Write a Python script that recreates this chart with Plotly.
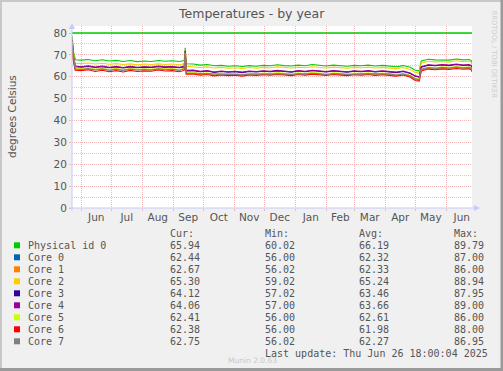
import plotly.graph_objects as go

# ---------------- data ----------------
dates = [
    "2024-05-23", "2024-05-24", "2024-05-26", "2024-06-01", "2024-06-08", "2024-06-15",
    "2024-06-22", "2024-06-29", "2024-07-06", "2024-07-13", "2024-07-20", "2024-07-27",
    "2024-08-03", "2024-08-10", "2024-08-17", "2024-08-24", "2024-08-31", "2024-09-07",
    "2024-09-12", "2024-09-13", "2024-09-14", "2024-09-21", "2024-09-28", "2024-10-05",
    "2024-10-12", "2024-10-19", "2024-10-26", "2024-11-02", "2024-11-09", "2024-11-16",
    "2024-11-23", "2024-11-30", "2024-12-07", "2024-12-14", "2024-12-21", "2024-12-28",
    "2025-01-04", "2025-01-11", "2025-01-18", "2025-01-25", "2025-02-01", "2025-02-08",
    "2025-02-15", "2025-02-22", "2025-03-01", "2025-03-08", "2025-03-15", "2025-03-22",
    "2025-03-29", "2025-04-05", "2025-04-12", "2025-04-19", "2025-04-26", "2025-05-01",
    "2025-05-05", "2025-05-07", "2025-05-14", "2025-05-21", "2025-05-28", "2025-06-04",
    "2025-06-11", "2025-06-18", "2025-06-24", "2025-06-26 00:00", "2025-06-26 18:00",
]

physical_id_0 = [
    78.5, 72.0, 67.8, 67.6, 67.9, 67.3, 67.8, 67.2, 67.5, 67.0, 67.4, 66.9, 67.2, 67.0, 67.4,
    67.1, 67.3, 67.0, 67.4, 73.2, 65.9, 65.8, 65.3, 65.6, 65.0, 65.2, 64.8, 65.0, 64.7, 65.1,
    64.8, 65.2, 65.0, 65.5, 65.1, 64.9, 65.3, 65.0, 65.6, 65.1, 64.9, 65.3, 65.1, 64.8, 65.2,
    65.0, 65.3, 64.9, 65.2, 65.0, 64.6, 65.1, 64.3, 63.0, 62.7, 67.2, 68.0, 67.7, 67.8, 67.6,
    68.1, 67.7, 67.9, 67.4, 65.94,
]
core_0 = [
    75.5, 68.5, 63.7, 63.4, 63.8, 63.2, 63.7, 63.1, 63.5, 63.0, 63.6, 63.2, 63.4, 63.2, 63.7,
    63.3, 63.5, 63.1, 63.6, 70.5, 61.6, 61.7, 61.2, 61.5, 60.9, 61.3, 61.0, 61.2, 60.8, 61.3,
    61.1, 61.4, 61.2, 61.6, 61.3, 61.0, 61.5, 61.2, 61.7, 61.3, 61.1, 61.5, 61.3, 61.0, 61.4,
    61.2, 61.5, 61.1, 61.4, 61.2, 60.8, 61.3, 60.4, 59.0, 58.6, 63.2, 64.1, 63.8, 64.2, 63.9,
    64.4, 64.0, 64.2, 63.7, 62.44,
]
core_1 = [
    75.0, 68.0, 63.6, 63.5, 63.6, 63.3, 63.5, 63.2, 63.6, 63.1, 63.4, 63.3, 63.5, 63.1, 63.6,
    63.4, 63.3, 63.2, 63.5, 70.2, 61.5, 61.8, 61.1, 61.4, 61.0, 61.2, 61.1, 61.3, 60.9, 61.2,
    61.2, 61.3, 61.3, 61.5, 61.2, 61.1, 61.4, 61.3, 61.6, 61.2, 61.2, 61.4, 61.2, 61.1, 61.3,
    61.3, 61.4, 61.2, 61.3, 61.1, 60.9, 61.2, 60.3, 58.9, 58.5, 63.3, 64.0, 63.9, 64.1, 63.8,
    64.3, 64.1, 64.1, 63.8, 62.67,
]
core_2 = [
    77.5, 71.0, 66.2, 66.0, 66.3, 65.8, 66.2, 65.7, 66.0, 65.6, 65.9, 65.5, 65.8, 65.6, 65.9,
    65.6, 65.8, 65.5, 65.9, 72.5, 64.8, 64.6, 64.2, 64.5, 64.0, 64.3, 63.9, 64.1, 63.8, 64.2,
    63.9, 64.3, 64.1, 64.5, 64.2, 64.0, 64.4, 64.1, 64.6, 64.2, 64.0, 64.4, 64.2, 63.9, 64.3,
    64.1, 64.4, 64.0, 64.3, 64.1, 63.7, 64.2, 63.3, 62.0, 61.6, 66.2, 67.1, 66.8, 67.0, 66.7,
    67.3, 66.9, 67.1, 66.6, 65.30,
]
core_3 = [
    76.5, 69.5, 64.6, 64.4, 64.7, 64.2, 64.6, 64.1, 64.5, 64.0, 64.5, 64.1, 64.4, 64.2, 64.6,
    64.3, 64.5, 64.1, 64.5, 71.5, 62.7, 62.8, 62.3, 62.6, 62.0, 62.4, 62.1, 62.3, 61.9, 62.4,
    62.2, 62.5, 62.3, 62.7, 62.4, 62.1, 62.6, 62.3, 62.8, 62.4, 62.2, 62.6, 62.4, 62.1, 62.5,
    62.3, 62.6, 62.2, 62.5, 62.3, 61.9, 62.4, 61.5, 60.2, 59.8, 64.4, 65.3, 65.0, 65.4, 65.1,
    65.6, 65.2, 65.4, 64.9, 64.12,
]
core_4 = [
    77.0, 70.0, 64.9, 64.6, 65.0, 64.4, 64.9, 64.3, 64.7, 64.2, 64.8, 64.3, 64.6, 64.4, 64.9,
    64.5, 64.7, 64.3, 64.8, 72.0, 62.9, 63.1, 62.5, 62.8, 62.2, 62.6, 62.3, 62.5, 62.1, 62.6,
    62.4, 62.7, 62.5, 62.9, 62.6, 62.3, 62.8, 62.5, 63.0, 62.6, 62.4, 62.8, 62.6, 62.3, 62.7,
    62.5, 62.8, 62.4, 62.7, 62.5, 62.1, 62.6, 61.7, 60.4, 60.0, 64.6, 65.5, 65.2, 65.6, 65.3,
    65.8, 65.4, 65.6, 65.1, 64.06,
]
core_5 = [
    76.0, 69.0, 63.9, 63.6, 64.0, 63.4, 63.9, 63.3, 63.7, 63.3, 63.8, 63.4, 63.6, 63.5, 63.9,
    63.5, 63.7, 63.3, 63.8, 71.0, 61.9, 62.0, 61.5, 61.8, 61.2, 61.6, 61.3, 61.5, 61.1, 61.6,
    61.4, 61.7, 61.5, 61.9, 61.6, 61.3, 61.8, 61.5, 62.0, 61.6, 61.4, 61.8, 61.6, 61.3, 61.7,
    61.5, 61.8, 61.4, 61.7, 61.5, 61.1, 61.6, 60.7, 59.4, 59.0, 63.5, 64.4, 64.1, 64.5, 64.2,
    64.7, 64.3, 64.5, 64.0, 62.41,
]
core_6 = [
    75.0, 67.5, 63.0, 62.8, 63.2, 62.4, 63.0, 62.3, 62.8, 62.2, 62.9, 62.4, 62.7, 62.5, 63.1,
    62.6, 62.8, 62.3, 62.9, 70.0, 61.2, 61.3, 60.7, 61.0, 60.4, 60.8, 60.5, 60.7, 60.3, 60.8,
    60.6, 60.9, 60.7, 61.1, 60.8, 60.5, 61.0, 60.7, 61.2, 60.8, 60.6, 61.0, 60.8, 60.5, 60.9,
    60.7, 61.0, 60.6, 60.9, 60.7, 60.3, 60.8, 59.8, 58.3, 58.0, 62.6, 63.5, 63.2, 63.6, 63.3,
    63.8, 63.4, 63.6, 63.1, 62.38,
]
core_7 = [
    75.8, 68.8, 63.5, 63.3, 63.7, 63.1, 63.6, 63.0, 63.4, 63.0, 63.5, 63.1, 63.3, 63.1, 63.6,
    63.2, 63.4, 63.0, 63.5, 70.8, 61.7, 61.6, 61.3, 61.4, 61.0, 61.2, 61.1, 61.1, 60.9, 61.2,
    61.2, 61.3, 61.3, 61.5, 61.4, 61.0, 61.4, 61.3, 61.6, 61.4, 61.0, 61.4, 61.4, 61.0, 61.3,
    61.3, 61.4, 61.2, 61.3, 61.3, 60.8, 61.2, 60.5, 59.1, 58.7, 63.4, 64.2, 63.9, 64.3, 64.0,
    64.4, 64.1, 64.3, 63.8, 62.75,
]

series_names = ["Physical id 0", "Core 0", "Core 1", "Core 2", "Core 3",
                "Core 4", "Core 5", "Core 6", "Core 7"]
series_values = [physical_id_0, core_0, core_1, core_2, core_3, core_4, core_5, core_6, core_7]
series_colors = ["#00CC00", "#0066B3", "#FF8000", "#FFCC00", "#330099",
                 "#990099", "#CCFF00", "#FF0000", "#808080"]

cur_values = [65.94, 62.44, 62.67, 65.30, 64.12, 64.06, 62.41, 62.38, 62.75]
min_values = [60.02, 56.00, 56.02, 59.02, 57.02, 57.00, 56.00, 56.00, 56.02]
avg_values = [66.19, 62.32, 62.33, 65.24, 63.46, 63.66, 62.61, 61.98, 62.27]
max_values = [89.79, 87.00, 86.00, 88.94, 87.95, 89.00, 86.00, 88.00, 86.95]

limit_value = 80
x_start = "2024-05-22 18:00"
x_end = "2025-06-26 18:00"
y_max = 83.2
y_ticks = [0, 10, 20, 30, 40, 50, 60, 70, 80]

title_text = "Temperatures - by year"
y_title = "degrees Celsius"
last_update = "Last update: Thu Jun 26 18:00:04 2025"
munin_version = "Munin 2.0.63"
rrd_credit = "RRDTOOL / TOBI OETIKER"

# ---------------- layout geometry ----------------
W, H = 503, 371
L, R, T, B = 72, 31, 26, 163
PW = W - L - R
PH = H - T - B


def px(x):
    return (x - L) / PW


def py(y):
    return (H - B - y) / PH


TEXT = "#555555"
MONO = "DejaVu Sans Mono"
SANS = "DejaVu Sans"
MGRID = "#F2B4B4"
GRID = "#CFCFCF"
AXIS = "#C8C8FA"
DOT = "1px,1px"

fig = go.Figure()

fig.add_trace(go.Scatter(
    x=[x_start, x_end], y=[limit_value, limit_value], mode="lines",
    line=dict(color=series_colors[0], width=1.3), showlegend=False, hoverinfo="skip"))

for name, vals, col in zip(series_names, series_values, series_colors):
    fig.add_trace(go.Scatter(x=dates, y=vals, mode="lines", name=name,
                             line=dict(color=col, width=1.1), showlegend=False))

annotations = []
shapes = []

# title
annotations.append(dict(text=title_text, x=px(251), y=py(13), xref="paper", yref="paper",
                         xanchor="center", yanchor="middle", showarrow=False,
                         font=dict(family=SANS, size=12.5, color=TEXT)))
# y title
annotations.append(dict(text=y_title, x=px(12), y=py(117), xref="paper", yref="paper",
                        xanchor="center", yanchor="middle", showarrow=False, textangle=-90,
                        font=dict(family=SANS, size=10.5, color=TEXT)))
# rrdtool credit
annotations.append(dict(text=rrd_credit, x=px(493.5), y=py(54), xref="paper", yref="paper",
                        xanchor="center", yanchor="middle", showarrow=False, textangle=90,
                        font=dict(family=SANS, size=6.8, color="#CCCCCC")))

# legend header
col_x = [169, 264, 358, 453]
for cx, head in zip(col_x, ["Cur:", "Min:", "Avg:", "Max:"]):
    annotations.append(dict(text=head, x=px(cx), y=py(233), xref="paper", yref="paper",
                            xanchor="left", yanchor="middle", showarrow=False,
                            borderpad=0, font=dict(family=MONO, size=10, color=TEXT)))

for i, (name, col) in enumerate(zip(series_names, series_colors)):
    yy = 245.3 + 12 * i
    shapes.append(dict(type="rect", xref="paper", yref="paper",
                       x0=px(14), x1=px(20), y0=py(yy + 3), y1=py(yy - 3),
                       fillcolor=col, line=dict(width=0)))
    annotations.append(dict(text=name, x=px(26.5), y=py(yy), xref="paper", yref="paper",
                            xanchor="left", yanchor="middle", showarrow=False, borderpad=0,
                            font=dict(family=MONO, size=10, color=TEXT)))
    for cx, v in zip(col_x, [cur_values[i], min_values[i], avg_values[i], max_values[i]]):
        annotations.append(dict(text=f"{v:.2f}", x=px(cx), y=py(yy), xref="paper", yref="paper",
                                xanchor="left", yanchor="middle", showarrow=False, borderpad=0,
                                font=dict(family=MONO, size=10, color=TEXT)))

annotations.append(dict(text=munin_version, x=px(252), y=py(360.5), xref="paper", yref="paper",
                        xanchor="center", yanchor="middle", showarrow=False, borderpad=0,
                        font=dict(family=SANS, size=7.5, color="#C8C8C8")))
annotations.append(dict(text=last_update, x=px(488.5), y=py(353.3), xref="paper", yref="paper",
                        xanchor="right", yanchor="middle", showarrow=False, borderpad=0,
                        font=dict(family=MONO, size=10, color=TEXT)))

# axis lines + arrows
shapes.append(dict(type="line", xref="paper", yref="paper", x0=px(69), x1=px(477),
                   y0=py(208), y1=py(208), line=dict(color=AXIS, width=1)))
shapes.append(dict(type="line", xref="paper", yref="paper", x0=px(72), x1=px(72),
                   y0=py(211), y1=py(27), line=dict(color=AXIS, width=1)))
shapes.append(dict(type="path", xref="paper", yref="paper",
                   path=f"M {px(474)} {py(205)} L {px(480)} {py(208)} L {px(474)} {py(211)} Z",
                   fillcolor=AXIS, line=dict(width=0)))
shapes.append(dict(type="path", xref="paper", yref="paper",
                   path=f"M {px(69)} {py(29)} L {px(72)} {py(23)} L {px(75)} {py(29)} Z",
                   fillcolor=AXIS, line=dict(width=0)))

# frame bevel
shapes.append(dict(type="rect", xref="paper", yref="paper", x0=px(0), x1=px(2), y0=py(371), y1=py(0),
                   fillcolor="#C8C8C8", line=dict(width=0)))
shapes.append(dict(type="rect", xref="paper", yref="paper", x0=px(0), x1=px(503), y0=py(2), y1=py(0),
                   fillcolor="#C8C8C8", line=dict(width=0)))
shapes.append(dict(type="rect", xref="paper", yref="paper", x0=px(500.5), x1=px(503), y0=py(371), y1=py(0),
                   fillcolor="#9A9A9A", line=dict(width=0)))
shapes.append(dict(type="rect", xref="paper", yref="paper", x0=px(0), x1=px(503), y0=py(371), y1=py(368),
                   fillcolor="#9A9A9A", line=dict(width=0)))

fig.update_layout(
    width=W, height=H, margin=dict(l=L, r=R, t=T, b=B),
    paper_bgcolor="#F0F0F0", plot_bgcolor="#FFFFFF",
    showlegend=False, annotations=annotations, shapes=shapes,
    xaxis=dict(type="date", range=[x_start, x_end], dtick="M1", tick0="2024-06-01",
               ticklabelmode="period", tickformat="%b", showgrid=True, gridcolor=MGRID,
               griddash=DOT, gridwidth=1, ticks="outside", ticklen=2, tickcolor=MGRID,
               ticklabelstandoff=-3,
               showline=False, zeroline=False,
               tickfont=dict(family=SANS, size=10.5, color=TEXT)),
    yaxis=dict(range=[0, y_max], tickvals=y_ticks, showgrid=True, gridcolor=MGRID,
               griddash=DOT, gridwidth=1, ticks="outside", ticklen=2, tickcolor=MGRID,
               showline=False, zeroline=False,
               minor=dict(tickvals=[5, 15, 25, 35, 45, 55, 65, 75], showgrid=True,
                          gridcolor=GRID, griddash=DOT, gridwidth=1),
               tickfont=dict(family=SANS, size=10.5, color=TEXT)),
)

fig.write_html("out.html")
